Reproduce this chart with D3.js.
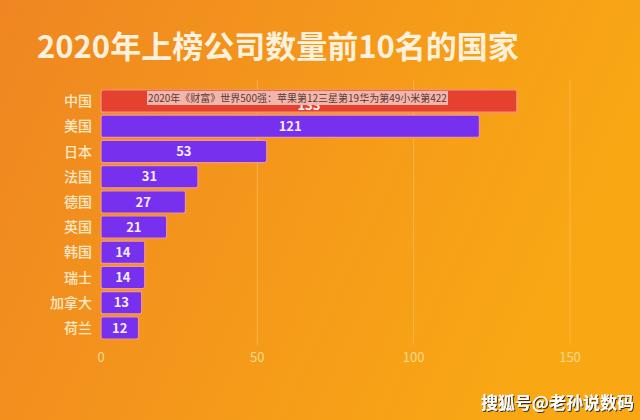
<!DOCTYPE html>
<html>
<head>
<meta charset="utf-8">
<script src="https://cdn.jsdelivr.net/npm/d3@7"></script>
<style>
  body { margin: 0; }
</style>
</head>
<body>
<script>
var countries = ["中国", "美国", "日本", "法国", "德国", "英国", "韩国", "瑞士", "加拿大", "荷兰"];
var counts = [133, 121, 53, 31, 27, 21, 14, 14, 13, 12];
var ticks = [0, 50, 100, 150];

var width = 640;
var height = 420;
var font = "'Noto Sans CJK SC', 'Noto Sans', sans-serif";

var svg = d3.select('body')
    .append('svg')
    .attr('width', width)
    .attr('height', height);

// background gradient
var defs = svg.append('defs');
var grad = defs.append('linearGradient')
    .attr('id', 'bg')
    .attr('x1', '0%').attr('y1', '0%')
    .attr('x2', '100%').attr('y2', '30%');
grad.append('stop').attr('offset', '0%').attr('stop-color', '#ef8622');
grad.append('stop').attr('offset', '100%').attr('stop-color', '#f9a814');

var shadow = defs.append('filter').attr('id', 'shadow');
shadow.append('feDropShadow')
    .attr('dx', 1).attr('dy', 1)
    .attr('stdDeviation', 0.6)
    .attr('flood-color', '#3a2a20');

svg.append('rect')
    .attr('width', width)
    .attr('height', height)
    .attr('fill', 'url(#bg)');

svg.append('text')
    .attr('x', 37)
    .attr('y', 58)
    .attr('font-family', font)
    .attr('font-weight', 'bold')
    .attr('font-size', 31)
    .attr('fill', '#fdf1dc')
    .text('2020年上榜公司数量前10名的国家');

var x = d3.scaleLinear()
    .domain([0, 150])
    .range([101, 570]);

var y = d3.scaleBand()
    .domain(countries)
    .range([89, 340])
    .paddingInner(0.12)
    .paddingOuter(0.04);

// grid lines
svg.append('g')
    .selectAll('line')
    .data(ticks.slice(1))
    .enter()
    .append('line')
    .attr('x1', function (d) { return x(d); })
    .attr('x2', function (d) { return x(d); })
    .attr('y1', 80)
    .attr('y2', 345)
    .attr('stroke', '#fbc56a')
    .attr('stroke-opacity', 0.6)
    .attr('stroke-width', 1);

// tick labels
svg.append('g')
    .selectAll('text')
    .data(ticks)
    .enter()
    .append('text')
    .attr('x', function (d) { return x(d); })
    .attr('y', 362)
    .attr('text-anchor', 'middle')
    .attr('font-family', font)
    .attr('font-size', 13)
    .attr('fill', '#fcd98a')
    .text(function (d) { return d; });

var data = countries.map(function (c, i) { return { name: c, value: counts[i] }; });

var bars = svg.append('g')
    .selectAll('g')
    .data(data)
    .enter()
    .append('g');

bars.append('rect')
    .attr('x', x(0))
    .attr('y', function (d) { return y(d.name); })
    .attr('width', function (d) { return x(d.value) - x(0); })
    .attr('height', y.bandwidth())
    .attr('rx', 2)
    .attr('fill', function (d, i) { return i === 0 ? '#e5412f' : '#7730ee'; })
    .attr('stroke', '#f3948a')
    .attr('stroke-width', 1.2);

// value labels; the first one sits mostly under the caption box
bars.append('text')
    .attr('x', function (d) { return x(0) + (x(d.value) - x(0)) / 2; })
    .attr('y', function (d, i) { return y(d.name) + y.bandwidth() / 2 + (i === 0 ? 4 : 0); })
    .attr('dy', '0.36em')
    .attr('text-anchor', 'middle')
    .attr('font-family', font)
    .attr('font-weight', 'bold')
    .attr('font-size', 13)
    .attr('fill', '#f4eefe')
    .text(function (d) { return d.value; });

bars.append('text')
    .attr('x', 92)
    .attr('y', function (d) { return y(d.name) + y.bandwidth() / 2; })
    .attr('dy', '0.36em')
    .attr('text-anchor', 'end')
    .attr('font-family', font)
    .attr('font-weight', 500)
    .attr('font-size', 14)
    .attr('fill', '#fde7c4')
    .text(function (d) { return d.name; });

// caption box over the first bar
svg.append('rect')
    .attr('x', 147)
    .attr('y', 91)
    .attr('width', 301)
    .attr('height', 14)
    .attr('fill', '#f4b6ab');

svg.append('text')
    .attr('x', 297.5)
    .attr('y', 98)
    .attr('dy', '0.36em')
    .attr('text-anchor', 'middle')
    .attr('font-family', font)
    .attr('font-size', 10)
    .attr('fill', '#5a3a36')
    .text('2020年《财富》世界500强：苹果第12三星第19华为第49小米第422');

// watermark
svg.append('text')
    .attr('x', 634)
    .attr('y', 409)
    .attr('text-anchor', 'end')
    .attr('font-family', font)
    .attr('font-weight', 'bold')
    .attr('font-size', 17)
    .attr('fill', '#ffffff')
    .attr('filter', 'url(#shadow)')
    .text('搜狐号@老孙说数码');
</script>
</body>
</html>
